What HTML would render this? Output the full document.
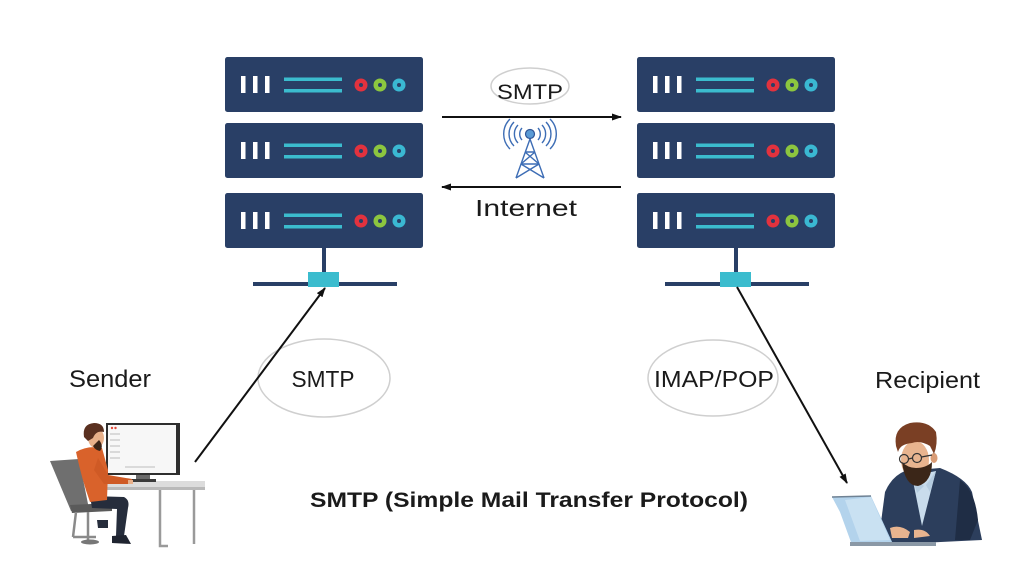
<!DOCTYPE html>
<html>
<head>
<meta charset="utf-8">
<style>
html,body{margin:0;padding:0;background:#fff;}
svg{display:block;}
text{font-family:"Liberation Sans",sans-serif;fill:#1a1a1a;}
</style>
</head>
<body>
<svg width="1024" height="576" viewBox="0 0 1024 576" xmlns="http://www.w3.org/2000/svg">
<defs>
  <g id="unit">
    <rect x="0" y="0" width="198" height="55" rx="2.5" fill="#293f66"/>
    <rect x="16" y="19" width="4.5" height="17" fill="#ffffff"/>
    <rect x="28" y="19" width="4.5" height="17" fill="#ffffff"/>
    <rect x="40" y="19" width="4.5" height="17" fill="#ffffff"/>
    <rect x="59" y="20.5" width="58" height="3.5" fill="#3bbcce"/>
    <rect x="59" y="32" width="58" height="3.5" fill="#3bbcce"/>
    <circle cx="136" cy="28" r="6.5" fill="#e2323e"/>
    <circle cx="136" cy="28" r="2" fill="#293f66"/>
    <circle cx="155" cy="28" r="6.5" fill="#8cc63f"/>
    <circle cx="155" cy="28" r="2" fill="#293f66"/>
    <circle cx="174" cy="28" r="6.5" fill="#3ab8d2"/>
    <circle cx="174" cy="28" r="2" fill="#293f66"/>
  </g>
  <g id="server">
    <use href="#unit" x="0" y="0"/>
    <use href="#unit" x="0" y="66"/>
    <use href="#unit" x="0" y="136"/>
    <rect x="97" y="191" width="4" height="27" fill="#293f66"/>
    <rect x="28" y="225" width="144" height="4" fill="#293f66"/>
    <rect x="83" y="215" width="31" height="15" fill="#3bbcce"/>
  </g>
  <marker id="ah" markerWidth="10" markerHeight="10" refX="9" refY="5" orient="auto" markerUnits="userSpaceOnUse">
    <path d="M0,1.5 L10,5 L0,8.5 Z" fill="#111"/>
  </marker>
</defs>

<!-- servers -->
<use href="#server" x="225" y="57"/>
<use href="#server" x="637" y="57"/>

<!-- top arrows -->
<line x1="442" y1="117" x2="621" y2="117" stroke="#111" stroke-width="2" marker-end="url(#ah)"/>
<line x1="621" y1="187" x2="442" y2="187" stroke="#111" stroke-width="2" marker-end="url(#ah)"/>

<!-- top SMTP ellipse -->
<ellipse cx="530" cy="86" rx="39" ry="18" fill="#fff" stroke="#cfcfcf" stroke-width="1.5"/>
<text x="530" y="99" font-size="21" text-anchor="middle" textLength="66" lengthAdjust="spacingAndGlyphs">SMTP</text>

<!-- tower -->
<g fill="none" stroke="#3d6db5" stroke-width="1.4">
  <path d="M522,128 A9,9 0 0 0 522,140"/>
  <path d="M518,125 A13,13 0 0 0 518,143"/>
  <path d="M514,122 A17,17 0 0 0 514,146"/>
  <path d="M510,119 A21,21 0 0 0 510,149"/>
  <path d="M538,128 A9,9 0 0 1 538,140"/>
  <path d="M542,125 A13,13 0 0 1 542,143"/>
  <path d="M546,122 A17,17 0 0 1 546,146"/>
  <path d="M550,119 A21,21 0 0 1 550,149"/>
  <path d="M530,139 L516,178 M530,139 L544,178"/>
  <path d="M525,152 L535,152 M521,164 L539,164"/>
  <path d="M525,152 L539,164 M535,152 L521,164 M521,164 L544,178 M539,164 L516,178"/>
</g>
<circle cx="530" cy="134" r="4.5" fill="#5b9bd5" stroke="#2f5597" stroke-width="1.2"/>

<text x="526" y="216" font-size="23" text-anchor="middle" textLength="102" lengthAdjust="spacingAndGlyphs">Internet</text>

<!-- lower ellipses -->
<ellipse cx="324" cy="378" rx="66" ry="39" fill="#fff" stroke="#cfcfcf" stroke-width="1.5"/>
<text x="323" y="387" font-size="23" text-anchor="middle" textLength="63" lengthAdjust="spacingAndGlyphs">SMTP</text>
<ellipse cx="713" cy="378" rx="65" ry="38" fill="#fff" stroke="#cfcfcf" stroke-width="1.5"/>
<text x="714" y="387" font-size="23" text-anchor="middle" textLength="120" lengthAdjust="spacingAndGlyphs">IMAP/POP</text>

<!-- diagonal arrows (on top) -->
<line x1="195" y1="462" x2="325" y2="288" stroke="#111" stroke-width="2" marker-end="url(#ah)"/>
<line x1="737" y1="287" x2="847" y2="483" stroke="#111" stroke-width="2" marker-end="url(#ah)"/>

<!-- labels -->
<text x="69" y="387" font-size="24" textLength="82" lengthAdjust="spacingAndGlyphs">Sender</text>
<text x="875" y="388" font-size="23" textLength="105" lengthAdjust="spacingAndGlyphs">Recipient</text>
<text x="310" y="507" font-size="21" font-weight="bold" textLength="438" lengthAdjust="spacingAndGlyphs">SMTP (Simple Mail Transfer Protocol)</text>

<!-- sender illustration -->
<g>
  <!-- chair -->
  <polygon points="50,461 79,459 89,509 71,511" fill="#6f6f6f"/>
  <polygon points="70,505 112,503 112,511 72,513" fill="#5a5a5a"/>
  <path d="M76,512 L73,537 M88,512 L88,540 M73,537 L96,537" stroke="#8a8a8a" stroke-width="2.5" fill="none"/>
  <ellipse cx="90" cy="542" rx="9" ry="2.5" fill="#777"/>
  <!-- desk -->
  <rect x="100" y="481" width="105" height="6" fill="#dcdcdc"/>
  <rect x="100" y="487" width="105" height="3" fill="#b9b9b9"/>
  <path d="M160,490 V546 H168 M194,490 V544" stroke="#9a9a9a" stroke-width="2.5" fill="none"/>
  <!-- monitor -->
  <rect x="106" y="423" width="74" height="52" fill="#2e2e2e"/>
  <rect x="108" y="425" width="68" height="48" fill="#f7f7f7"/>
  <circle cx="112" cy="428" r="1.2" fill="#e24a3b"/>
  <circle cx="115.5" cy="428" r="1.2" fill="#e24a3b"/>
  <g stroke="#c9c9c9" stroke-width="1.3">
    <line x1="110" y1="434" x2="120" y2="434"/>
    <line x1="110" y1="440" x2="120" y2="440"/>
    <line x1="110" y1="446" x2="120" y2="446"/>
    <line x1="110" y1="452" x2="120" y2="452"/>
    <line x1="110" y1="458" x2="120" y2="458"/>
    <line x1="125" y1="467" x2="155" y2="467"/>
  </g>
  <rect x="136" y="475" width="14" height="4" fill="#6a6a6a"/>
  <rect x="126" y="479" width="30" height="3" fill="#3a3a3a"/>
  <!-- person legs -->
  <path d="M90,496 L124,497 Q130,500 128,508 L124,536 L116,536 L117,509 L92,508 Z" fill="#262d3c"/>
  <path d="M112,536 L126,535 L131,544 L112,543 Z" fill="#1f2430"/>
  <path d="M97,520 L108,520 L108,528 L98,528 Z" fill="#262d3c"/>
  <!-- torso -->
  <path d="M76,452 Q88,445 102,448 L108,470 L107,500 L90,502 Q82,480 76,452 Z" fill="#d9622b"/>
  <path d="M98,458 L108,475 L132,479 L132,484 L104,484 L94,470 Z" fill="#cf5a25"/>
  <!-- head -->
  <ellipse cx="96" cy="438" rx="8" ry="10" fill="#e8b08a"/>
  <path d="M99,440 Q104,446 100,451 Q95,450 93,446 Z" fill="#3b2418"/>
  <path d="M84,437 Q82,424 94,423 Q104,423 104,432 Q96,430 93,438 L88,441 Z" fill="#5a3020"/>
  <rect x="128" y="480" width="5" height="4" fill="#e8b08a"/>
</g>

<!-- recipient illustration -->
<g>
  <!-- jacket body -->
  <path d="M885,492 Q892,476 905,471 L940,468 Q966,478 972,492 L982,540 L878,545 Z" fill="#2c3e5c"/>
  <path d="M960,480 Q975,490 978,520 L970,540 L955,540 Z" fill="#1f2d45"/>
  <!-- shirt -->
  <polygon points="912,476 936,471 922,526" fill="#c9dcec"/>
  <path d="M912,476 L917,493 L924,486 Z M936,471 L930,492 L926,485 Z" fill="#b5cce0"/>
  <!-- head -->
  <ellipse cx="915" cy="460" rx="14" ry="19" fill="#e8b48f"/>
  <ellipse cx="934" cy="458" rx="3.5" ry="5" fill="#d99c76"/>
  <path d="M902,462 Q905,486 918,486 Q932,482 932,462 Q926,468 916,468 Q908,468 902,462 Z" fill="#3b2618"/>
  <path d="M896,446 Q893,428 910,423 Q928,420 936,432 Q938,444 934,454 L930,446 Q920,440 912,443 Q900,444 898,452 Z" fill="#7a3f24"/>
  <g fill="none" stroke="#333" stroke-width="1.2">
    <circle cx="904" cy="459" r="4.5"/>
    <circle cx="917" cy="458" r="4.5"/>
    <line x1="908.5" y1="459" x2="912.5" y2="458"/>
    <line x1="921.5" y1="457" x2="932" y2="455"/>
  </g>
  <!-- laptop -->
  <polygon points="832,497 871,496 893,544 852,545 840,512" fill="#b3d3ec"/>
  <polygon points="845,500 871,497 890,540 860,541" fill="#d3e7f5" opacity="0.7"/>
  <line x1="832" y1="497" x2="871" y2="496" stroke="#6f8294" stroke-width="1.5"/>
  <rect x="850" y="542" width="86" height="4" fill="#8a98a6"/>
  <!-- hands -->
  <path d="M890,528 Q900,524 910,532 L908,538 L892,538 Z" fill="#e8b48f"/>
  <path d="M914,530 Q925,528 930,536 L914,538 Z" fill="#e8b48f"/>
</g>
</svg>
</body>
</html>
